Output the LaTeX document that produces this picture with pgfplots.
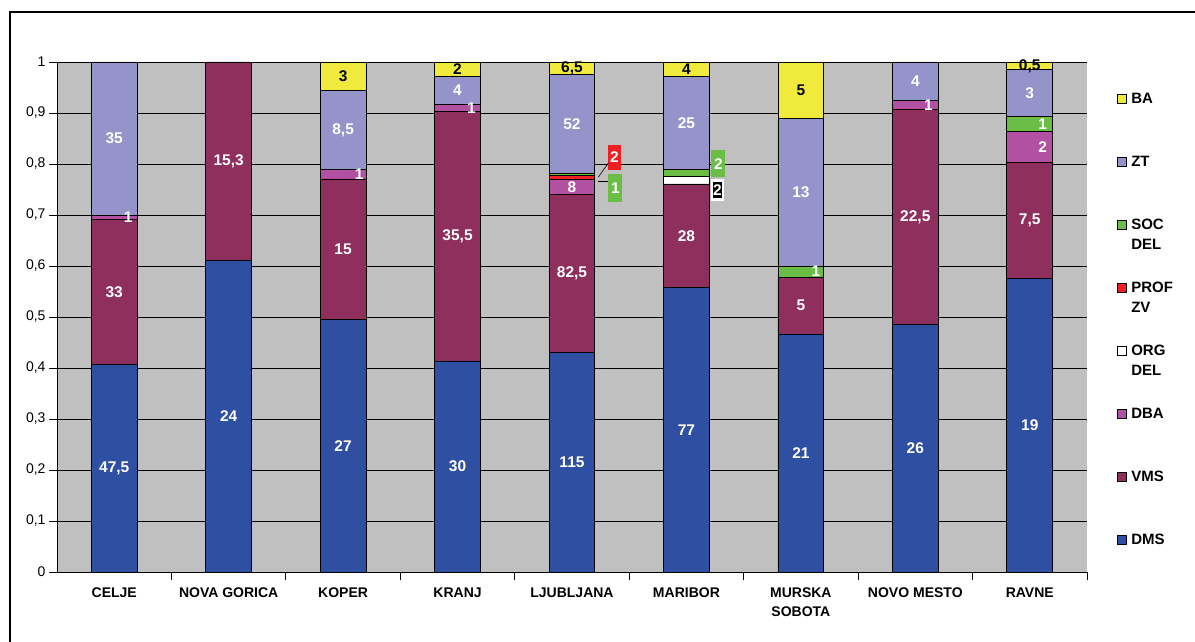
\documentclass[border=0pt]{standalone}
\usepackage{pgfplots}
\pgfplotsset{compat=1.18}
\usepackage{pgfplotstable}
\usepackage{fontspec}
\setmainfont{Liberation Sans}

\definecolor{cDMS}{RGB}{47,79,163}
\definecolor{cVMS}{RGB}{143,47,94}
\definecolor{cDBA}{RGB}{178,80,162}
\definecolor{cORG}{RGB}{255,255,255}
\definecolor{cPROF}{RGB}{238,32,36}
\definecolor{cSOC}{RGB}{106,190,70}
\definecolor{cZT}{RGB}{148,148,202}
\definecolor{cBA}{RGB}{240,234,60}
\definecolor{bg}{RGB}{192,192,192}

% proportions (count / total of the region); lab = count shown on the bar
\pgfplotstableread{
x y lab dx
0 0.40773 {47,5} 0
1 0.61069 24 0
2 0.49541 27 0
3 0.41379 30 0
4 0.43071 115 0
5 0.55797 77 0
6 0.46667 21 0
7 0.48598 26 0
8 0.57576 19 0
}\tDMS
\pgfplotstableread{
x y lab dx
0 0.28326 33 0
1 0.38931 {15,3} 0
2 0.27523 15 0
3 0.48966 {35,5} 0
4 0.30899 {82,5} 0
5 0.20290 28 0
6 0.11111 5 0
7 0.42056 {22,5} 0
8 0.22727 {7,5} 0
}\tVMS
\pgfplotstableread{
x y lab dx
0 0.00858 1 14
1 0 {} 0
2 0.01835 1 16
3 0.01379 1 14
4 0.02996 8 0
5 0 {} 0
6 0 {} 0
7 0.01869 1 13
8 0.06061 2 13
}\tDBA
\pgfplotstableread{
x y lab dx
0 0 {} 0
1 0 {} 0
2 0 {} 0
3 0 {} 0
4 0 {} 0
5 0.01449 {} 0
6 0 {} 0
7 0 {} 0
8 0 {} 0
}\tORG
\pgfplotstableread{
x y lab dx
0 0 {} 0
1 0 {} 0
2 0 {} 0
3 0 {} 0
4 0.00749 {} 0
5 0 {} 0
6 0 {} 0
7 0 {} 0
8 0 {} 0
}\tPROF
\pgfplotstableread{
x y lab dx
0 0 {} 0
1 0 {} 0
2 0 {} 0
3 0 {} 0
4 0.00375 {} 0
5 0.01449 {} 0
6 0.02222 1 15
7 0 {} 0
8 0.03030 1 13
}\tSOC
\pgfplotstableread{
x y lab dx
0 0.30043 35 0
1 0 {} 0
2 0.15596 {8,5} 0
3 0.05517 4 0
4 0.19476 52 0
5 0.18116 25 0
6 0.28889 13 0
7 0.07477 4 0
8 0.09091 3 0
}\tZT
\pgfplotstableread{
x y lab dx
0 0 {} 0
1 0 {} 0
2 0.05505 3 0
3 0.02759 2 0
4 0.02434 {6,5} 0
5 0.02899 4 0
6 0.11111 5 0
7 0 {} 0
8 0.01515 {0,5} 0
}\tBA

\newcommand\lblfont{\bfseries\fontsize{15.5}{18}\selectfont}

\pgfplotsset{
  base/.style={
    scale only axis, width=1030pt, height=510pt,
    xmin=-0.5, xmax=8.5, ymin=0, ymax=1,
    ybar stacked, bar width=0.40,
  },
  seg/.style={fill=#1, draw=black, line width=0.8pt},
  lbl/.style={draw=none, fill=none, forget plot,
    nodes near coords, point meta=explicit symbolic,
    visualization depends on={\thisrow{dx} \as \segdx},
    every node near coord/.append style={anchor=center, inner sep=0pt,
      xshift=\segdx*1pt, font=\lblfont, text=#1}},
}

\begin{document}
\begin{tikzpicture}
\useasboundingbox (0pt,0pt) rectangle (1195pt,642pt);
\draw[line width=1.5pt] (10pt,-10pt) -- (10pt,630pt) -- (1210pt,630pt);

\begin{axis}[base, at={(57pt,70pt)}, anchor=south west,
  axis background/.style={fill=bg},
  axis x line*=bottom, axis y line*=left,
  axis line style={-, black, line width=0.8pt},
  ymajorgrids, major grid style={black, line width=0.6pt},
  ytick={0,0.1,0.2,0.3,0.4,0.5,0.6,0.7,0.8,0.9,1},
  yticklabels={0,{0,1},{0,2},{0,3},{0,4},{0,5},{0,6},{0,7},{0,8},{0,9},1},
  yticklabel style={font=\fontsize{14}{16}\selectfont},
  xtick={0.5,1.5,2.5,3.5,4.5,5.5,6.5,7.5,8.5},
  xticklabels={},
  extra x ticks={0,1,2,3,4,5,6,7,8},
  extra x tick labels={CELJE,NOVA GORICA,KOPER,KRANJ,LJUBLJANA,MARIBOR,{MURSKA\\SOBOTA},NOVO MESTO,RAVNE},
  extra x tick style={major tick length=0pt, tick label style={align=center, font=\bfseries\fontsize{14}{19}\selectfont, yshift=-12pt}},
  tick align=outside, major tick length=8pt,
  tick style={black, line width=0.8pt},
  reverse legend,
  legend image code/.code={\draw[#1, draw=black, line width=0.8pt] (0pt,5.5pt) rectangle (9pt,14.5pt);},
  legend style={at={(1.0265,0.945)}, anchor=north west, draw=none, fill=none,
    font=\bfseries\fontsize{15}{20}\selectfont, row sep=29pt,
    nodes={align=left, inner ysep=1pt, inner xsep=4pt}, cells={anchor=west}},
]
\addplot[seg=cDMS] table[x=x,y=y] {\tDMS}; \addlegendentry{DMS\\\mbox{}}
\addplot[seg=cVMS] table[x=x,y=y] {\tVMS}; \addlegendentry{VMS\\\mbox{}}
\addplot[seg=cDBA] table[x=x,y=y] {\tDBA}; \addlegendentry{DBA\\\mbox{}}
\addplot[seg=cORG] table[x=x,y=y] {\tORG}; \addlegendentry{ORG\\DEL}
\addplot[seg=cPROF] table[x=x,y=y] {\tPROF}; \addlegendentry{PROF\\ZV}
\addplot[seg=cSOC] table[x=x,y=y] {\tSOC}; \addlegendentry{SOC\\DEL}
\addplot[seg=cZT] table[x=x,y=y] {\tZT}; \addlegendentry{ZT\\\mbox{}}
\addplot[seg=cBA] table[x=x,y=y] {\tBA}; \addlegendentry{BA\\\mbox{}}
\end{axis}

\begin{axis}[base, at={(57pt,70pt)}, anchor=south west, hide axis]
\addplot[lbl=white] table[x=x,y=y,meta=lab] {\tDMS};
\addplot[lbl=white] table[x=x,y=y,meta=lab] {\tVMS};
\addplot[lbl=white] table[x=x,y=y,meta=lab] {\tDBA};
\addplot[lbl=white] table[x=x,y=y,meta=lab] {\tORG};
\addplot[lbl=white] table[x=x,y=y,meta=lab] {\tPROF};
\addplot[lbl=white] table[x=x,y=y,meta=lab] {\tSOC};
\addplot[lbl=white] table[x=x,y=y,meta=lab] {\tZT};
\addplot[lbl=black] table[x=x,y=y,meta=lab] {\tBA};
% call-out labels of the thin segments
\draw[black, line width=0.6pt] (axis cs:4.231,0.7745) -- (axis cs:4.318,0.802);
\draw[black, line width=0.6pt] (axis cs:4.231,0.7667) -- (axis cs:4.318,0.7667);
\node[fill=cPROF, text=white, font=\lblfont, inner sep=0pt, minimum width=13pt, minimum height=25pt] at (axis cs:4.371,0.8137) {2};
\node[fill=cSOC, text=white, font=\lblfont, inner sep=0pt, minimum width=14pt, minimum height=28pt] at (axis cs:4.379,0.7529) {1};
\node[fill=cSOC, text=white, font=\lblfont, inner sep=0pt, minimum width=14pt, minimum height=27pt] at (axis cs:5.280,0.80) {2};
\node[fill=black, draw=white, line width=2.5pt, text=white, font=\lblfont, inner sep=0pt, minimum width=11pt, minimum height=19pt] at (axis cs:5.271,0.749) {2};
\end{axis}
\end{tikzpicture}
\end{document}
